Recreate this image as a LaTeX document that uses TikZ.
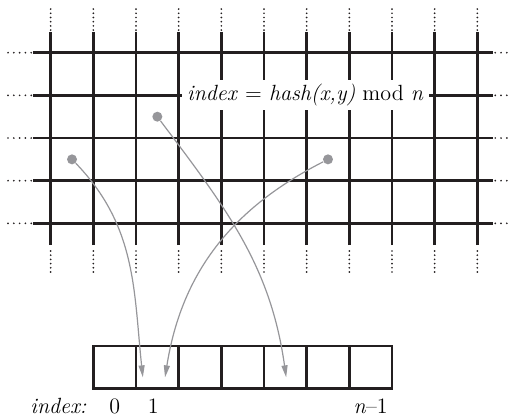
\documentclass[tikz,border=0pt]{standalone}
\usetikzlibrary{arrows.meta,calc,positioning}
\definecolor{gridline}{RGB}{35,31,32}
\definecolor{linkgray}{RGB}{150,150,154}
\tikzset{gridrule/.style={draw=gridline,line width=1.25pt,step=1},
         vdots/.style={draw=gridline,line width=0.95pt,line cap=round,dash pattern=on 0pt off 2.1pt},
         hdots/.style={draw=gridline,line width=0.95pt,line cap=round,dash pattern=on 0pt off 2.9pt},
         cell/.style={draw=gridline,line width=1.25pt,minimum size=7.5mm,inner sep=0pt,outer sep=0pt},
         pin/.style={circle,fill=linkgray,inner sep=0pt,minimum size=5pt},
         link/.style={draw=linkgray,line width=0.6pt,-{Triangle[length=6pt,width=3pt]}},
         formula/.style={fill=white,inner xsep=2.5pt,inner ysep=2pt},
         idx/.style={inner sep=1pt}}

\begin{document}
\begin{tikzpicture}[x=7.5mm,y=7.5mm,font=\fontsize{11}{13}\selectfont]
  \useasboundingbox (-1.188,-8.493) rectangle (10.813,1.235);
  % the infinite grid
  \draw[gridrule] (-0.41,-4.51) grid (10.37,0.49);
  \draw[vdots,xstep=1,ystep=10] (-0.1,0.53) grid (10.1,1.07);
  \draw[vdots,xstep=1,ystep=10] (-0.1,-5.14) grid (10.1,-4.55);
  \draw[hdots,xstep=10,ystep=1] (-1.0,-4.1) grid (-0.45,0.1);
  \draw[hdots,xstep=10,ystep=1] (10.42,-4.1) grid (10.76,0.1);
  \node[formula] (hashlabel) at (5.97,-1) {\textit{index} = \textit{hash(x,y)} mod \textit{n}};
  % the array
  \node[cell] (c0) at (1.5,-7.37) {};
  \node[cell] (c1) at (2.5,-7.37) {};
  \node[cell] (c2) at (3.5,-7.37) {};
  \node[cell] (c3) at (4.5,-7.37) {};
  \node[cell] (c4) at (5.5,-7.37) {};
  \node[cell] (c5) at (6.5,-7.37) {};
  \node[cell] (c6) at (7.5,-7.37) {};
  \node[idx,below=4pt of c0] (i0) {0};
  \node[idx,below=4pt of c1,xshift=-2pt] (i1) {1};
  \node[idx,below=4pt of c6] (ilast) {\textit{n}--1};
  \node[idx,base left=9pt of i0] (indexlabel) {\textit{index:}};
  % points and where they land
  \node[pin] (p1) at (0.5,-2.5) {};
  \node[pin] (p2) at (2.5,-1.5) {};
  \node[pin] (p3) at (6.5,-2.5) {};
  \coordinate (t1) at ($(c1.center)+(-0.34,-0.24)$);
  \coordinate (t2) at ($(c1.center)+(0.18,-0.24)$);
  \coordinate (t3) at ($(c4.center)+(0.02,-0.24)$);
  \draw[link] (p1) to[out=-46,in=96] (t1);
  \draw[link] (p3) to[out=207,in=81] (t2);
  \draw[link] (p2) to[out=-53,in=98] (t3);
\end{tikzpicture}
\end{document}
